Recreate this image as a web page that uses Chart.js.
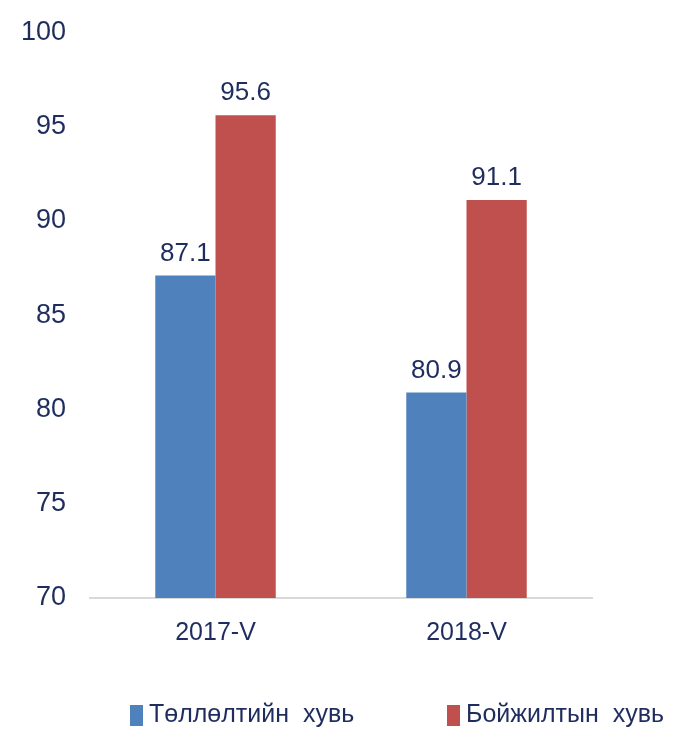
<!DOCTYPE html>
<html>
<head>
<meta charset="utf-8">
<script src="https://cdn.jsdelivr.net/npm/chart.js@4"></script>
<style>
html,body{margin:0;padding:0;background:#fff;}
#wrap{width:674px;height:734px;position:relative;}
</style>
</head>
<body>
<div id="wrap"><canvas id="c" width="674" height="734"></canvas></div>
<script>
const categories = ["2017-V", "2018-V"];
const seriesNames = ["Төллөлтийн  хувь", "Бойжилтын  хувь"];
const birthRate = [87.1, 80.9];
const survivalRate = [95.6, 91.1];
const yTicks = [70, 75, 80, 85, 90, 95, 100];

const FONT = "'Liberation Sans', Arial, sans-serif";
const TEXT = "#1F2D5E";

const valueLabels = {
  id: 'valueLabels',
  afterDatasetsDraw(chart) {
    const ctx = chart.ctx;
    ctx.save();
    ctx.font = "26px " + FONT;
    ctx.fillStyle = TEXT;
    ctx.textAlign = 'center';
    ctx.textBaseline = 'bottom';
    chart.data.datasets.forEach((ds, i) => {
      chart.getDatasetMeta(i).data.forEach((bar, j) => {
        ctx.fillText(ds.data[j].toFixed(1), bar.x, bar.y - 9);
      });
    });
    ctx.restore();
  }
};

// legend drawn below the chart, items laid out at fixed starting x positions
const legendStarts = [130, 447];
const customLegend = {
  id: 'customLegend',
  afterDraw(chart) {
    const ctx = chart.ctx;
    ctx.save();
    ctx.font = "25px " + FONT;
    ctx.textBaseline = 'middle';
    ctx.textAlign = 'left';
    const cy = 715;
    chart.data.datasets.forEach((ds, i) => {
      const x = legendStarts[i];
      ctx.fillStyle = ds.backgroundColor;
      ctx.fillRect(x, cy - 10, 13, 21);
      ctx.fillStyle = TEXT;
      ctx.fillText(ds.label, x + 19, cy);
    });
    ctx.restore();
  }
};

new Chart(document.getElementById('c'), {
  type: 'bar',
  data: {
    labels: categories,
    datasets: [
      { label: seriesNames[0], data: birthRate, backgroundColor: '#4F81BD', categoryPercentage: 0.48, barPercentage: 1.0 },
      { label: seriesNames[1], data: survivalRate, backgroundColor: '#C0504D', categoryPercentage: 0.48, barPercentage: 1.0 }
    ]
  },
  options: {
    responsive: false,
    animation: false,
    layout: { padding: { top: 0, right: 82, left: 10, bottom: 74 } },
    plugins: {
      tooltip: { enabled: false },
      legend: { display: false }
    },
    scales: {
      x: {
        grid: { display: false },
        border: { display: true, color: '#D9D9D9', width: 2 },
        ticks: { font: { family: FONT, size: 25 }, color: TEXT, padding: 12 }
      },
      y: {
        min: 70, max: 100,
        afterBuildTicks(axis) { axis.ticks = yTicks.map(v => ({ value: v })); },
        afterFit(axis) { axis.width = 80; },
        grid: { display: false },
        border: { display: false },
        ticks: { font: { family: FONT, size: 27 }, color: TEXT, padding: 16 }
      }
    }
  },
  plugins: [valueLabels, customLegend]
});
</script>
</body>
</html>
